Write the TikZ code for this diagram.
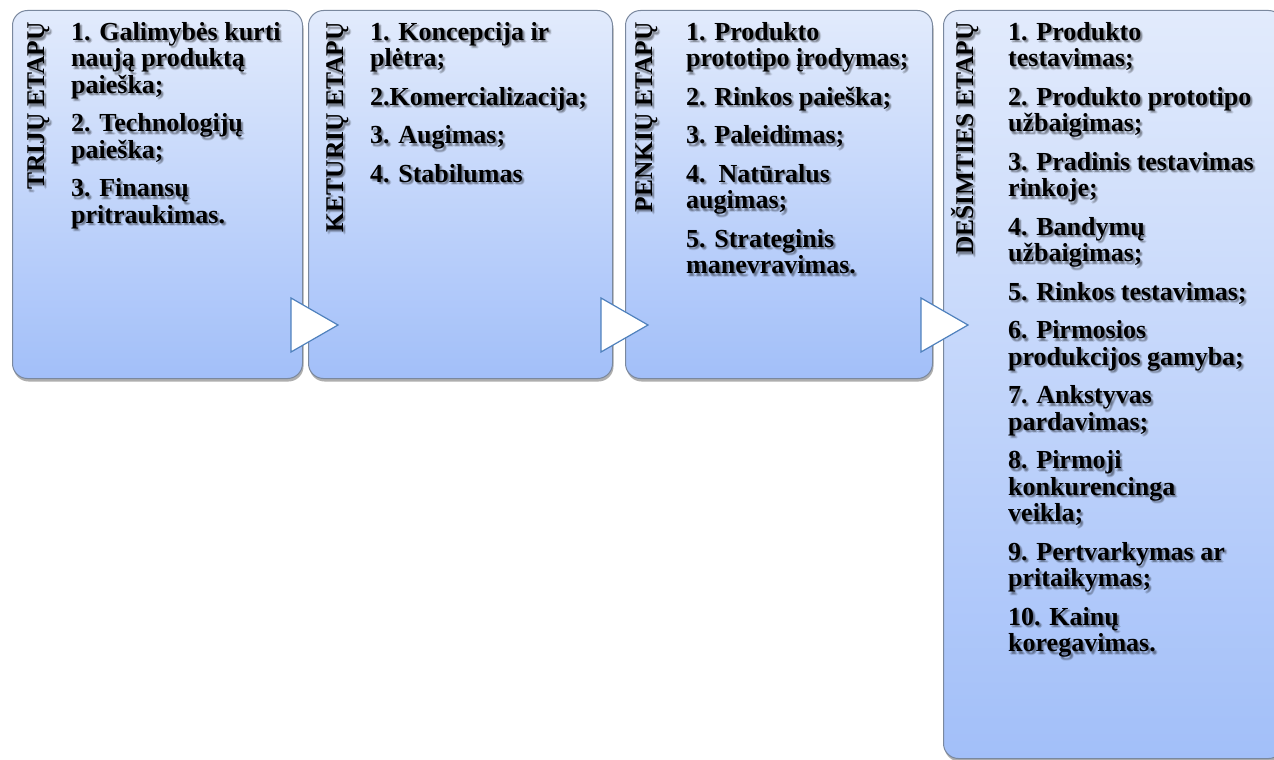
\documentclass[tikz,border=0pt]{standalone}
\usepackage{fontspec}
\setmainfont{Liberation Serif}
\usetikzlibrary{calc,shadows}

\definecolor{boxtop}{HTML}{E2EBFC}
\definecolor{boxbot}{HTML}{A2BFF9}
\definecolor{boxline}{HTML}{7A889E}
\definecolor{tipblue}{HTML}{4F81BD}

\tikzset{
  stage/.style={draw=boxline, line width=1pt, rounded corners=15pt,
    top color=boxtop, bottom color=boxbot, anchor=north west, inner sep=0pt,
    drop shadow={shadow xshift=1pt, shadow yshift=-3pt, opacity=.45, fill=black!70}},
  heading/.style={rotate=90, anchor=base east, inner sep=0pt,
    font=\fontsize{25.5}{26}\selectfont\bfseries},
  items/.style={anchor=north west, align=left, inner sep=0pt,
    font=\fontsize{26}{26.5}\selectfont\bfseries},
  pointer/.style={draw=tipblue, fill=white, line width=1.2pt, line join=miter},
}

% text with a soft dark shadow under it
\newcommand\shadowed[4]{%
  \foreach \dx/\dy [count=\k] in {1/2.5,3/2.5,2/1.5,2/3.5,2/2.5}
    \node[#2, text=black, text opacity=.1] (#1-s\k) at ($(#3)+(\dx,\dy)$) {#4};
  \node[#2] (#1) at (#3) {#4};}
% fixed height of the first line, so every list starts on the same baseline
\newcommand\firstline{\rule{0pt}{20pt}}

\begin{document}
\begin{tikzpicture}[x=1pt,y=-1pt]
  \useasboundingbox (0,0) rectangle (1274,760);
  \clip (0,0) rectangle (1274,760);

  % the four stage boxes
  \node[stage, minimum width=290pt, minimum height=368pt] (b1) at (12,10) {};
  \node[stage, minimum width=304pt, minimum height=368pt] (b2) at (308,10) {};
  \node[stage, minimum width=307pt, minimum height=368pt] (b3) at (625,10) {};
  \node[stage, minimum width=340pt, minimum height=748pt] (b4) at (943,10) {};

  % pointers between the boxes
  \foreach \b in {b1,b2,b3}
    \draw[pointer] ($(\b.north east)+(-12,288)$) coordinate (\b-p)
      -- ++(0,54) -- ++(47,-27) -- cycle;

  % vertical headings
  \shadowed{h1}{heading}{44,22}{TRIJŲ ETAPŲ}
  \shadowed{h2}{heading}{343,22}{KETURIŲ ETAPŲ}
  \shadowed{h3}{heading}{652,22}{PENKIŲ ETAPŲ}
  \shadowed{h4}{heading}{973,22}{DEŠIMTIES ETAPŲ}

  % lists of steps
  \shadowed{l1}{items}{71,20}{\firstline 1. Galimybės kurti\\naują produktą\\paieška;\\[12pt]
    2. Technologijų\\paieška;\\[12pt]3. Finansų\\pritraukimas.}
  \shadowed{l2}{items}{370,20}{\firstline 1. Koncepcija ir\\plėtra;\\[12pt]
    2.Komercializacija;\\[12pt]3. Augimas;\\[12pt]4. Stabilumas}
  \shadowed{l3}{items}{686,20}{\firstline 1. Produkto\\prototipo įrodymas;\\[12pt]
    2. Rinkos paieška;\\[12pt]3. Paleidimas;\\[12pt]4.\ \ Natūralus\\augimas;\\[12pt]
    5. Strateginis\\manevravimas.}
  \shadowed{l4}{items}{1008,20}{\firstline 1. Produkto\\testavimas;\\[12pt]
    2. Produkto prototipo\\užbaigimas;\\[12pt]3. Pradinis testavimas\\rinkoje;\\[12pt]
    4. Bandymų\\užbaigimas;\\[12pt]5. Rinkos testavimas;\\[12pt]
    6. Pirmosios\\produkcijos gamyba;\\[12pt]7. Ankstyvas\\pardavimas;\\[12pt]
    8. Pirmoji\\konkurencinga\\veikla;\\[12pt]9. Pertvarkymas ar\\pritaikymas;\\[12pt]
    10. Kainų\\koregavimas.}
\end{tikzpicture}
\end{document}
